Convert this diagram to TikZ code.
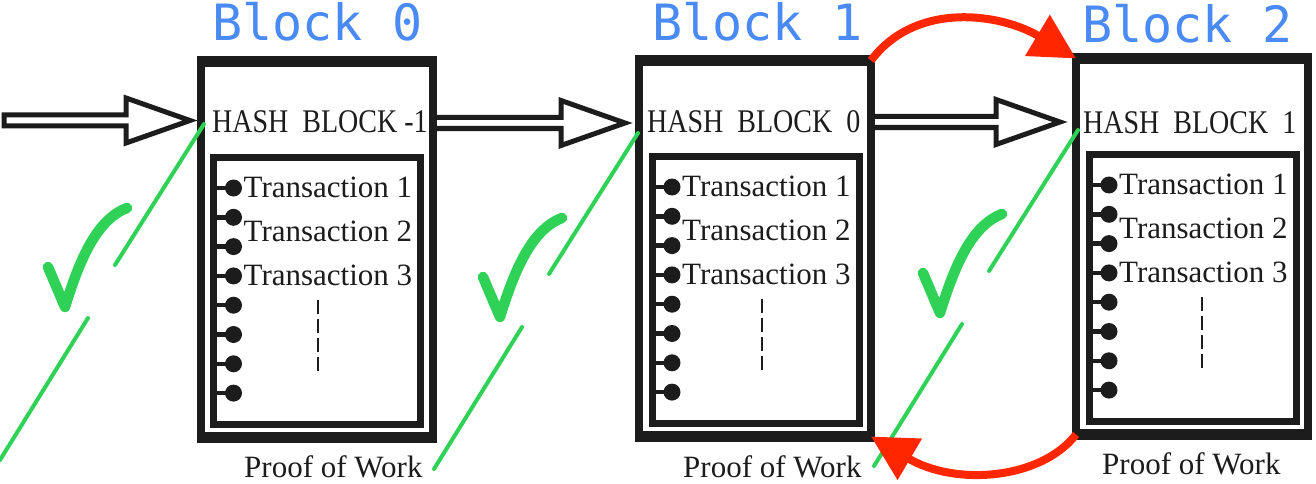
\documentclass[tikz,border=0pt]{standalone}
\usepackage{fontspec}
\setmainfont{Liberation Serif}
\newfontfamily\labelmono{DejaVu Sans Mono}
\usetikzlibrary{arrows.meta,calc}

\definecolor{ink}{HTML}{1C1C1C}
\definecolor{chainblue}{HTML}{4A8AF4}
\definecolor{okgreen}{HTML}{2FD256}
\definecolor{linkred}{HTML}{FF2600}

\tikzset{
  outerbox/.style={draw=ink, line width=8pt, minimum width=232pt, minimum height=376pt,
    inner sep=0pt, outer sep=0pt, anchor=north west},
  innerbox/.style={draw=ink, line width=7pt, minimum width=207pt, minimum height=267pt,
    inner sep=0pt, outer sep=0pt, anchor=north west},
  edgebar/.style={draw=ink, line width=11pt},
  stub/.style={draw=ink, line width=4.5pt},
  dashline/.style={draw=ink, line width=2.5pt, dash pattern=on 14pt off 5pt},
  txn/.style={anchor=base west, inner sep=0pt, text=ink, font=\fontsize{31}{36}\selectfont},
  hashtext/.style={anchor=base west, inner sep=0pt, text=ink, font=\fontsize{28}{32}\selectfont},
  powtext/.style={anchor=base west, inner sep=0pt, text=ink, font=\fontsize{31}{36}\selectfont},
  blocktitle/.style={anchor=base west, inner sep=0pt, text=chainblue, font=\labelmono\fontsize{50}{56}\selectfont},
  hollowarrow/.style={draw=ink, line width=5pt},
  powline/.style={draw=okgreen, line width=4pt, line cap=round},
  checkstroke/.style={draw=okgreen, line width=10.5pt, line cap=round, line join=round},
  redlink/.style={draw=linkred, line width=8pt, -{Triangle[length=45pt,width=46pt]}},
  okmark/.pic={\draw[checkstroke] (0,0) -- (17,40) .. controls (30,-2) and (47,-47) .. (79,-59);}
}

% one block: name, outer left, outer top, x offset of the dashed "more" line
\newcommand\chainblock[4]{%
  \node[outerbox] (#1) at (#2,#3) {};
  \draw[edgebar] ([xshift=-4pt]#1.north west) -- ([xshift=4pt]#1.north east);
  \draw[edgebar] ([xshift=-4pt]#1.south west) -- ([xshift=4pt]#1.south east);
  \node[innerbox] (#1-in) at ($(#1.north west)+(13,95.5)$) {};
  \foreach \k in {0,...,7}{
    \path (#1-in.north west) ++(0,{31+29.3*\k}) coordinate (#1-p\k) ++(20,0) coordinate (#1-q\k);
    \draw[stub] (#1-p\k) -- (#1-q\k);
    \fill[ink] (#1-q\k) circle (8.5pt);
  }
  \foreach \k in {1,2,3}{
    \node[txn] (#1-t\k) at ($(#1-in.north west)+(30,{40.5+44*(\k-1)})$) {Transaction \k};
  }
  \draw[dashline] ($(#1-in.north west)+(#4,143)$) -- ++(0,71);
}

% outlined block arrow from a source point to a tip point
\newcommand\hollowlink[2]{%
  \draw[hollowarrow] ($(#1)+(0,-5.5)$) -- ($(#2)+(-64,-5.5)$) -- ($(#2)+(-64,-22.5)$)
    -- (#2) -- ($(#2)+(-64,22.5)$) -- ($(#2)+(-64,5.5)$) -- ($(#1)+(0,5.5)$) -- cycle;
}

\begin{document}
\begin{tikzpicture}[x=1pt,y=-1pt]
\useasboundingbox (0,0) rectangle (1316,484);

% hash links feeding each block
\coordinate (e0) at (4,120.5);
\coordinate (t0) at (190,120.5);
\coordinate (t1) at (625,123);
\coordinate (t2) at (1060,122);

\chainblock{b0}{200.5}{61.5}{104.5}
\chainblock{b1}{639}{60.5}{110}
\chainblock{b2}{1076}{58.5}{113}

\coordinate (s1) at (b0.east |- t1);
\coordinate (s2) at (b1.east |- t2);
\hollowlink{e0}{t0}
\hollowlink{s1}{t1}
\hollowlink{s2}{t2}

% titles
\node[blocktitle] (n0) at (212,41) {Block 0};
\node[blocktitle] (n1) at (652,41) {Block 1};
\node[blocktitle] (n2) at (1082,43) {Block 2};

% previous-hash fields
\node[hashtext] (h0) at (212,132) {\scalebox{1}[1.18]{HASH\ \ BLOCK -1}};
\node[hashtext] (h1) at (647,132) {\scalebox{1}[1.18]{HASH\ \ BLOCK\ \ 0}};
\node[hashtext] (h2) at (1083,133) {\scalebox{1}[1.18]{HASH\ \ BLOCK\ \ 1}};

% proof of work captions
\node[powtext] (w0) at (244,477) {Proof of Work};
\node[powtext] (w1) at (683,477) {Proof of Work};
\node[powtext] (w2) at (1102,474) {Proof of Work};

% validation strokes with ticks
\coordinate (g0) at (204,124);
\coordinate (g1) at (638,133);
\coordinate (g2) at (1078,130);
\foreach \g in {g0,g1,g2}{
  \draw[powline] (\g) -- ++(-89,141) ++(-27,53) -- ++(-88,142);
}
\pic at (48,267) {okmark};
\pic at (483,277) {okmark};
\pic at (923,273) {okmark};

% tampering loop between block 1 and block 2
\draw[redlink] (b1.north east) .. controls +(45,-60) and +(-75,-45) .. (b2.north west);
\draw[redlink] (b2.south west) .. controls +(-35,45) and +(85,50) .. (b1.south east);
\end{tikzpicture}
\end{document}
